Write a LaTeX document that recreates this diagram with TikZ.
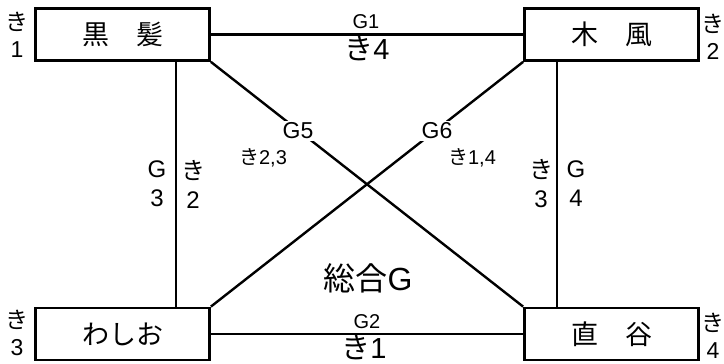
\documentclass[tikz,border=0pt]{standalone}
\usepackage{fontspec}
\setmainfont{Liberation Sans}
\newfontfamily\jp{Noto Sans CJK JP}
\usetikzlibrary{calc}
\begin{document}
\begin{tikzpicture}[x=1pt,y=-1pt,
  box/.style={draw,line width=2.8pt,minimum width=174pt,minimum height=52pt,inner sep=0pt,font=\jp\fontsize{27}{27}\selectfont},
  link/.style={line width=2.4pt},
  lbl/.style={inner sep=1pt,align=center},
  cut/.style={lbl,fill=white,inner sep=2pt}]
\useasboundingbox (0,0) rectangle (724,364);
\node[box] (kuro) at (122.5,34.5) {黒　髪};
\node[box] (kifu) at (611.5,34.5) {木　風};
\node[box] (washi) at (122.5,334) {わしお};
\node[box] (nao) at (611.5,334) {直　谷};
% connectors
\draw[link] (kuro) -- (kifu);
\draw[link] (washi) -- (nao);
\draw[link] ($(kuro.south east)+(-35,0)$) -- ($(washi.north east)+(-35,0)$);
\draw[link] ($(kifu.south west)+(34,0)$) -- ($(nao.north west)+(34,0)$);
\draw[link] (kuro.south east) -- (nao.north west);
\draw[link] (kifu.south west) -- (washi.north east);
% edge labels
\node[lbl,font=\fontsize{20}{20}\selectfont] (g1) at (366,22) {G1};
\node[lbl,font=\fontsize{29}{29}\selectfont] (k4) at (367,49) {{\jp き}4};
\node[lbl,font=\fontsize{20}{20}\selectfont] (g2) at (367,322) {G2};
\node[lbl,font=\fontsize{29}{29}\selectfont] (k1) at (364,348) {{\jp き}1};
\node[cut,font=\fontsize{23}{23}\selectfont] (g5) at (298,131) {G5};
\node[cut,font=\fontsize{23}{23}\selectfont] (g6) at (437,131) {G6};
\node[lbl,font=\fontsize{20}{20}\selectfont] (k23) at (263,158) {{\jp き}2,3};
\node[lbl,font=\fontsize{20}{20}\selectfont] (k14) at (472,158) {{\jp き}1,4};
\node[lbl,font=\fontsize{24}{29}\selectfont] (g3) at (157,184) {G\\3};
\node[lbl,font=\fontsize{24}{29}\selectfont] (k2) at (193,184) {{\jp き}\\2};
\node[lbl,font=\fontsize{24}{29}\selectfont] (k3) at (541,184) {{\jp き}\\3};
\node[lbl,font=\fontsize{24}{29}\selectfont] (g4) at (576,184) {G\\4};
\node[lbl,font=\fontsize{32}{32}\selectfont] (sogo) at (368,278) {{\jp 総合}G};
% corner labels
\node[lbl,font=\fontsize{23}{27}\selectfont] (c1) at (17,35) {{\jp き}\\1};
\node[lbl,font=\fontsize{23}{27}\selectfont] (c2) at (713,37) {{\jp き}\\2};
\node[lbl,font=\fontsize{23}{27}\selectfont] (c3) at (17,333) {{\jp き}\\3};
\node[lbl,font=\fontsize{23}{27}\selectfont] (c4) at (713,336) {{\jp き}\\4};
\end{tikzpicture}
\end{document}
